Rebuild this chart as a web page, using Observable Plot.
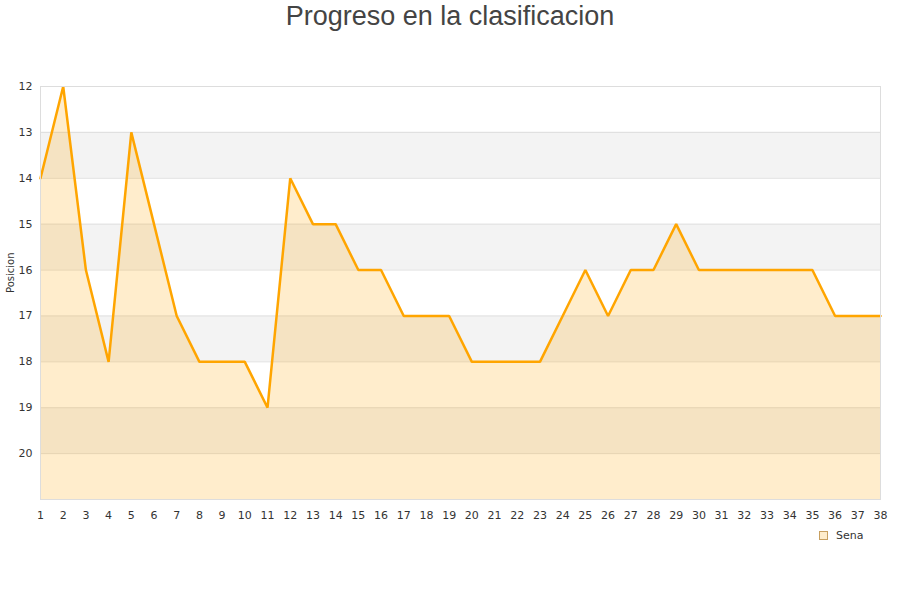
<!DOCTYPE html>
<html><head><meta charset="utf-8">
<script src="https://cdn.jsdelivr.net/npm/d3@7"></script>
<script src="https://cdn.jsdelivr.net/npm/@observablehq/plot@0.6"></script>
<style>
body{margin:0;background:#fff;width:900px;height:600px;position:relative;overflow:hidden}
#title{height:46px;text-align:center;font-family:"Liberation Sans",Arial,sans-serif;font-size:27px;color:#444;line-height:32px}
#legend{position:absolute;left:819px;top:529px;font-family:"DejaVu Sans",sans-serif;font-size:11px;color:#333;display:flex;align-items:center}
#legend span.sw{display:inline-block;width:7px;height:7px;border:1px solid #c8a060;background:#ffedcc;margin-right:8px}
</style></head>
<body>
<div id="title">Progreso en la clasificacion</div>
<div id="chart"></div>
<div id="legend"><span class="sw"></span>Sena</div>
<script>
const jornadas = d3.range(1, 39);
const posiciones = [14,12,16,18,13,15,17,18,18,18,19,14,15,15,16,16,17,17,17,18,18,18,18,17,16,17,16,16,15,16,16,16,16,16,16,17,17,17];
const yTicks = [12,13,14,15,16,17,18,19,20];
const bandStarts = [13,15,17,19];
const team = "Sena";

const data = jornadas.map((j, i) => ({jornada: j, pos: posiciones[i]}));

const chart = Plot.plot({
  width: 900,
  height: 554,
  marginTop: 40,
  marginBottom: 101,
  marginLeft: 40,
  marginRight: 20,
  style: {fontFamily: "DejaVu Sans, sans-serif", fontSize: "11px", color: "#333", background: "transparent"},
  x: {domain: [1, 38], ticks: jornadas, tickFormat: d => d, tickSize: 0, tickPadding: 12, label: null},
  y: {domain: [12, 21], reverse: true, ticks: yTicks, tickSize: 0, tickPadding: 8, label: null},
  marks: [
    Plot.rect(bandStarts, {x1: 1, x2: 38, y1: d => d, y2: d => d + 1, fill: "#f3f3f3"}),
    Plot.ruleY(yTicks.concat([13]), {stroke: "#e0e0e0", strokeWidth: 1}),
    Plot.areaY(data, {x: "jornada", y1: 21, y2: "pos", fill: "orange", fillOpacity: 0.2}),
    Plot.lineY(data, {x: "jornada", y: "pos", stroke: "orange", strokeWidth: 2.5, strokeLinejoin: "miter"}),
    Plot.frame({stroke: "#dddddd"}),
    Plot.text(["Posicion"], {frameAnchor: "left", dx: -30, rotate: -90, fontSize: 10, fill: "#333"})
  ]
});
document.getElementById("chart").appendChild(chart);
</script>
</body></html>
